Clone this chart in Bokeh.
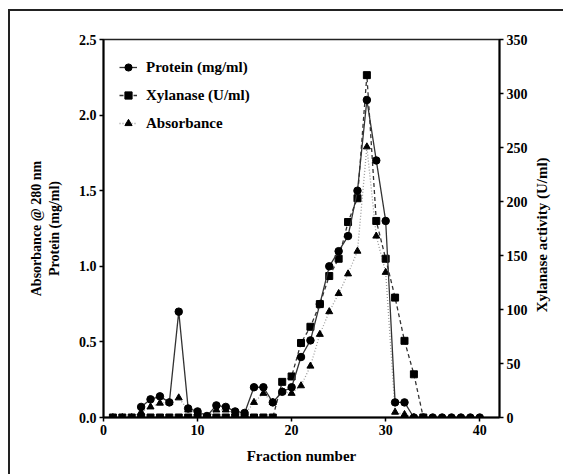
import math
from bokeh.plotting import figure
from bokeh.layouts import row
from bokeh.models import (Range1d, LinearAxis, FixedTicker, Legend, LegendItem,
                          CustomJSTickFormatter)
from bokeh.core.properties import value
from bokeh.embed import file_html
from bokeh.resources import INLINE

# ---- data ----
protein_fraction = list(range(4, 41))
protein = [0.07, 0.12, 0.14, 0.10, 0.70, 0.06, 0.04, 0.01, 0.08, 0.07, 0.04, 0.03,
           0.20, 0.20, 0.10, 0.17, 0.20, 0.40, 0.51, 0.75, 1.00, 1.10, 1.20, 1.50,
           2.10, 1.70, 1.30, 0.10, 0.10, 0, 0, 0, 0, 0, 0, 0, 0]

xylanase_fraction = list(range(1, 35))
xylanase = [0, 0, 0, 0, 0, 0, 0, 0, 0, 0, 0, 0, 0, 0, 0, 0, 0, 0,
            33, 38, 69, 84, 105, 131, 147, 181, 203, 317, 182, 147, 111, 71, 40, 0]

absorb_fraction = list(range(1, 34))
absorbance = [0, 0, 0, 0.035, 0.07, 0.095, 0.10, 0.13, 0.05, 0.03, 0.0, 0.05, 0.05,
              0.03, 0.02, 0.10, 0.16, 0.10, 0.17, 0.16, 0.21, 0.34, 0.55, 0.70,
              0.82, 0.95, 1.10, 1.79, 1.20, 0.96, 0.035, 0.02, 0]

x_ticks = [0, 10, 20, 30, 40]
left_ticks = [0, 0.5, 1.0, 1.5, 2.0, 2.5]
right_ticks = [0, 50, 100, 150, 200, 250, 300, 350]
right_title = "Xylanase activity (U/ml)"

FONT = "Liberation Serif"

p = figure(width=530, height=474, output_backend="svg", toolbar_location=None,
           x_range=Range1d(0, 42.1), y_range=Range1d(0, 2.5),
           min_border_left=103, min_border_right=31, min_border_top=39,
           min_border_bottom=57)
p.extra_y_ranges = {"xyl": Range1d(0, 350)}
p.grid.visible = False
p.outline_line_color = "#222222"
p.outline_line_width = 1.5
p.background_fill_color = "white"
p.border_fill_alpha = 0
# outer frame (left and top edges) drawn as the element background
p.styles = {
    "background": "linear-gradient(#222,#222) 8px 9px / 2px 100% no-repeat, "
                  "linear-gradient(#222,#222) 8px 9px / 100% 2px no-repeat, white"
}

def style_axis(ax, label_standoff):
    ax.axis_line_width = 2
    ax.axis_line_color = "black"
    ax.major_tick_line_width = 1.5
    ax.major_tick_line_color = "black"
    ax.major_tick_out = 4
    ax.major_tick_in = 0
    ax.minor_tick_line_color = None
    ax.major_label_text_font = FONT
    ax.major_label_text_font_style = "bold"
    ax.major_label_text_font_size = "14px"
    ax.major_label_text_color = "black"
    ax.axis_label_text_font = FONT
    ax.axis_label_text_font_style = "bold"
    ax.axis_label_text_font_size = "14px"
    ax.axis_label_text_color = "black"
    ax.axis_label_standoff = label_standoff

xa = p.xaxis[0]
xa.ticker = FixedTicker(ticks=x_ticks)
xa.axis_label = "Fraction number"
xa.major_label_standoff = 3
style_axis(xa, 10)
xa.axis_label_text_font_size = "15px"

ya = p.yaxis[0]
ya.ticker = FixedTicker(ticks=left_ticks)
ya.axis_label = "Absorbance @ 280 nm\nProtein (mg/ml)"
ya.major_label_standoff = 3
ya.formatter = CustomJSTickFormatter(code="return tick.toFixed(1);")
style_axis(ya, 14)

ra = LinearAxis(y_range_name="xyl", ticker=FixedTicker(ticks=right_ticks))
ra.major_label_standoff = 3
style_axis(ra, 5)
p.add_layout(ra, "right")

# ---- series ----
abs_line = p.line(absorb_fraction, absorbance, line_color="#9a9a9a",
                  line_width=1.3, line_dash="1 2")
abs_pts = p.scatter(absorb_fraction, absorbance, marker="triangle", size=7,
                    fill_color="black", line_color="black")

xyl_line = p.line(xylanase_fraction, xylanase, y_range_name="xyl",
                  line_color="#333333", line_width=1.3, line_dash="4 3")
xyl_pts = p.scatter(xylanase_fraction, xylanase, y_range_name="xyl",
                    marker="square", size=7, fill_color="black",
                    line_color="black")

pro_line = p.line(protein_fraction, protein, line_color="#333333",
                  line_width=1.3)
pro_pts = p.scatter(protein_fraction, protein, marker="circle", size=7.5,
                    fill_color="black", line_color="black")

legend = Legend(items=[
    LegendItem(label="Protein (mg/ml)", renderers=[pro_line, pro_pts]),
    LegendItem(label="Xylanase (U/ml)", renderers=[xyl_line, xyl_pts]),
    LegendItem(label="Absorbance", renderers=[abs_line, abs_pts]),
], location="top_left")
legend.margin = 0
legend.padding = 16
legend.border_line_color = "white"
legend.border_line_alpha = 0
legend.background_fill_alpha = 0
legend.glyph_width = 18
legend.glyph_height = 24
legend.label_height = 24
legend.spacing = 4
legend.label_standoff = 9
legend.label_text_font = FONT
legend.label_text_font_style = "bold"
legend.label_text_font_size = "15px"
legend.label_text_color = "black"
p.add_layout(legend, "center")

# ---- narrow strip on the right holding the right axis title (bottom-to-top) ----
q = figure(width=33, height=474, output_backend="svg", toolbar_location=None,
           x_range=Range1d(0, 33), y_range=Range1d(0, 474),
           min_border_left=0, min_border_right=0, min_border_top=0,
           min_border_bottom=0)
q.axis.visible = False
q.grid.visible = False
q.outline_line_color = None
q.background_fill_alpha = 0
q.border_fill_alpha = 0
q.styles = {
    "background": "linear-gradient(#222,#222) 0px 9px / 100% 2px no-repeat, white"
}
q.text(x=[11], y=[229], text=[right_title], angle=math.pi / 2,
       text_align="center", text_baseline="middle",
       text_font=value(FONT), text_font_style="bold",
       text_font_size="15px", text_color="black")

layout = row(p, q)
open("out.html", "w").write(file_html(layout, INLINE))
